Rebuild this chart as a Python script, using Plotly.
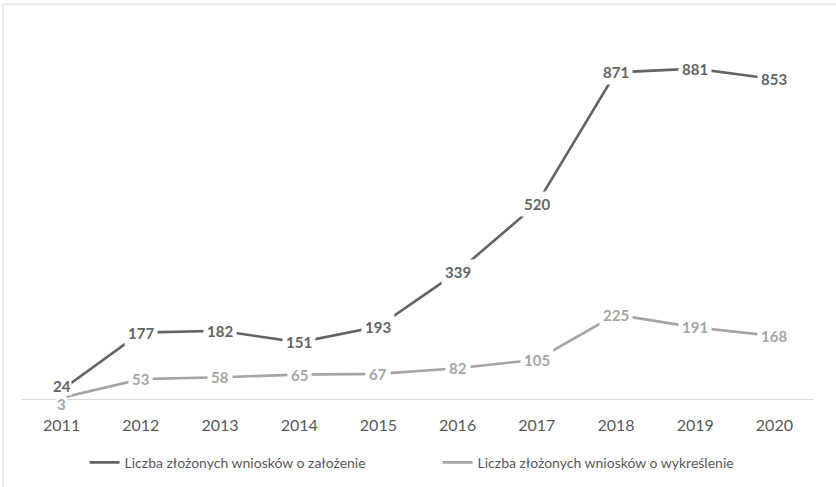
import plotly.graph_objects as go

years = ["2011", "2012", "2013", "2014", "2015", "2016", "2017", "2018", "2019", "2020"]
zalozenie = [24, 177, 182, 151, 193, 339, 520, 871, 881, 853]
wykreslenie = [3, 53, 58, 65, 67, 82, 105, 225, 191, 168]
name1 = "Liczba złożonych wniosków o założenie"
name2 = "Liczba złożonych wniosków o wykreślenie"

dark = "#646464"
light = "#a5a5a5"
font = "Lato"

fig = go.Figure()
fig.add_trace(go.Scatter(x=years, y=zalozenie, mode="lines", name=name1,
                         line=dict(color=dark, width=2.6)))
fig.add_trace(go.Scatter(x=years, y=wykreslenie, mode="lines", name=name2,
                         line=dict(color=light, width=2.6)))

# draw the light series labels first so the dark ones sit on top
for series, col in ((wykreslenie, light), (zalozenie, dark)):
    for i, v in enumerate(series):
        first = i == 0
        if first:
            shift = -6 if series is wykreslenie else 4
            pad = 0
        else:
            shift, pad = 0, 3
        fig.add_annotation(x=i, y=v, text=f"<b>{v}</b>", showarrow=False,
                           bgcolor="white", borderpad=pad, yshift=shift,
                           font=dict(family=font, size=15, color=col))

fig.add_shape(type="rect", xref="paper", yref="paper",
              x0=-0.024, x1=1.2, y0=-0.5, y1=1.053,
              line=dict(color="#d9d9d9", width=1), layer="below")

fig.update_layout(
    width=836, height=487,
    margin=dict(l=22, r=22, t=24, b=88, autoexpand=False),
    paper_bgcolor="white", plot_bgcolor="white",
    showlegend=True,
    legend=dict(orientation="h", x=0.079, xanchor="left", y=-0.17, yanchor="middle",
                font=dict(family=font, size=14, color="#595959"),
                itemwidth=30, entrywidth=308),
    xaxis=dict(type="category", range=[-0.5, 9.5], showgrid=False, showline=True,
               linecolor="#d9d9d9", linewidth=1,
               ticks="", ticklabelstandoff=12,
               tickfont=dict(family=font, size=16, color="#595959"), zeroline=False),
    yaxis=dict(range=[0, 1000], showgrid=False, showticklabels=False,
               zeroline=False, showline=False),
)

fig.write_html("out.html", config={"displayModeBar": False},
               post_script="document.body.style.margin='0';")
